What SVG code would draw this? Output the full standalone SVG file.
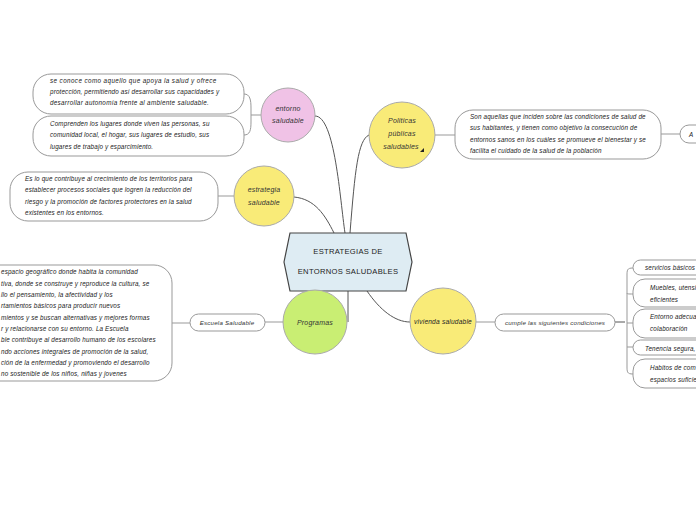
<svg xmlns="http://www.w3.org/2000/svg" width="696" height="520" viewBox="0 0 696 520">
<style>
.t{font-family:"Liberation Sans",Arial,sans-serif;font-style:italic;font-size:6.3px;fill:#222;letter-spacing:0.15px}
.n{font-family:"Liberation Sans",Arial,sans-serif;font-style:italic;font-size:7px;fill:#333;text-anchor:middle;letter-spacing:0.2px}
.s{font-size:6.2px}
.c{font-family:"Liberation Sans",Arial,sans-serif;font-size:7.6px;fill:#222;text-anchor:middle;letter-spacing:0.3px}
.box{fill:#fff;stroke:#999;stroke-width:1}
.circ{stroke:#aaa;stroke-width:1}
.ln{fill:none;stroke:#555;stroke-width:1}
.lg{fill:none;stroke:#999;stroke-width:1}
</style>
<rect width="696" height="520" fill="#fff"/>
<g id="connectors">
<path class="ln" d="M315,116 C335,116 340,200 345,233"/>
<path class="ln" d="M350,233 C355,170 358,140 369,135"/>
<path class="ln" d="M294,197 C315,199 325,215 334,233"/>
<path class="ln" d="M348,291 L348,322"/>
<path class="ln" d="M367,291 C380,310 395,322 410,322"/>
<path class="lg" d="M261,115 L251,115 M244,94 C250,94 251,100 251,108 L251,122 C251,130 250,135 244,135"/>
<path class="lg" d="M218,196 L234,196"/>
<path class="lg" d="M435,135 L455,135"/>
<path class="lg" d="M661,134 L680,134"/>
<path class="lg" d="M172,323 L190,323"/>
<path class="lg" d="M265,322 L283,322"/>
<path class="lg" d="M476,322 L495,322"/>
<path class="ln" d="M615,322 L625,322"/>
<path class="lg" d="M633,268 C627,268 627,270 627,276 L627,366 C627,372 627,374 633,374 M627,293 C627,294 628,294 633,294 M627,323 L633,323 M627,347 L633,347"/>
</g>
<g id="center">
<polygon points="284,262 290,233 406,233 412,262 406,291 290,291" fill="#deecf3" stroke="#444" stroke-width="1.2"/>
<text class="c" x="348" y="254">ESTRATEGIAS DE</text>
<text class="c" x="348" y="274">ENTORNOS SALUDABLES</text>
</g>
<g id="entorno">
<circle class="circ" cx="288" cy="115" r="27" fill="#f0c2e6"/>
<text class="n" x="288" y="111">entorno</text>
<text class="n" x="288" y="123">saludable</text>
</g>
<g id="entorno-def">
<rect class="box" x="33" y="74" width="211" height="40" rx="18"/>
<text class="t" x="50" y="83" style="letter-spacing:0.4px">se conoce como aquello que apoya la salud y ofrece</text>
<text class="t" x="50" y="94">protección, permitiendo así desarrollar sus capacidades y</text>
<text class="t" x="50" y="105" style="letter-spacing:0.3px">desarrollar autonomía frente al ambiente saludable.</text>
</g>
<g id="entorno-lugares">
<rect class="box" x="33" y="116" width="211" height="40" rx="18"/>
<text class="t" x="50" y="126">Comprenden los lugares donde viven las personas, su</text>
<text class="t" x="50" y="137">comunidad local, el hogar, sus lugares de estudio, sus</text>
<text class="t" x="50" y="149">lugares de trabajo y esparcimiento.</text>
</g>
<g id="politicas">
<circle class="circ" cx="402" cy="135" r="33" fill="#f9eb78"/>
<text class="n" x="402" y="123">Politicas</text>
<text class="n" x="402" y="136">públicas</text>
<text class="n" x="401" y="149">saludables</text>
<polygon points="424,148 424,152 420,152" fill="#222"/>
</g>
<g id="politicas-def">
<rect class="box" x="455" y="110" width="206" height="49" rx="18"/>
<text class="t" x="470" y="119">Son aquellas que inciden sobre las condiciones de salud de</text>
<text class="t" x="470" y="130">sus habitantes, y tienen como objetivo la consecución de</text>
<text class="t" x="470" y="142">entornos sanos en los cuáles se promueve el bienestar y se</text>
<text class="t" x="470" y="153">facilita el cuidado de la salud de la población</text>
</g>
<g id="politicas-a">
<rect class="box" x="680" y="125" width="40" height="18" rx="9"/>
<text class="t" x="689" y="137">A</text>
</g>
<g id="estrategia">
<circle class="circ" cx="264" cy="196" r="30" fill="#f9eb78"/>
<text class="n" x="264" y="192">estrategia</text>
<text class="n" x="264" y="205">saludable</text>
</g>
<g id="estrategia-def">
<rect class="box" x="10" y="172" width="208" height="49" rx="18"/>
<text class="t" x="25" y="181">Es lo que contribuye al crecimiento de los territorios para</text>
<text class="t" x="25" y="192">establecer procesos sociales que logren la reducción del</text>
<text class="t" x="25" y="204">riesgo y la promoción de factores protectores en la salud</text>
<text class="t" x="25" y="215">existentes en los entornos.</text>
</g>
<g id="programas">
<circle class="circ" cx="315" cy="322" r="32" fill="#c9ee73"/>
<text class="n" x="315" y="325">Programas</text>
</g>
<g id="escuela">
<rect class="box" x="190" y="314" width="75" height="17" rx="8.5"/>
<text class="n s" x="227" y="325">Escuela Saludable</text>
</g>
<g id="escuela-def">
<rect class="box" x="-30" y="265" width="202" height="116" rx="18"/>
<text class="t" x="1" y="274">espacio geográfico donde habita la comunidad</text>
<text class="t" x="1" y="286">tiva, donde se construye y reproduce la cultura, se</text>
<text class="t" x="1" y="297">llo el pensamiento, la afectividad y los</text>
<text class="t" x="1" y="308">rtamientos básicos para producir nuevos</text>
<text class="t" x="1" y="320">mientos y se buscan alternativas y mejores formas</text>
<text class="t" x="1" y="331">r y relacionarse con su entorno. La Escuela</text>
<text class="t" x="1" y="342">ble contribuye al desarrollo humano de los escolares</text>
<text class="t" x="1" y="354">ndo acciones integrales de promoción de la salud,</text>
<text class="t" x="1" y="365">ción de la enfermedad y promoviendo el desarrollo</text>
<text class="t" x="1" y="376">no sostenible de los niños, niñas y jovenes</text>
</g>
<g id="vivienda">
<circle class="circ" cx="443" cy="321" r="33" fill="#f9eb78"/>
<text class="n" x="443" y="324" style="fill:#222;font-size:6.6px">vivienda saludable</text>
</g>
<g id="cumple">
<rect class="box" x="495" y="314" width="120" height="17" rx="8.5"/>
<text class="n s" x="555" y="325">cumple las siguientes condiciones</text>
</g>
<g id="servicios">
<rect class="box" x="633" y="260" width="90" height="15" rx="7.5"/>
<text class="t" x="645" y="270">servicios básicos</text>
</g>
<g id="muebles">
<rect class="box" x="633" y="279" width="90" height="28" rx="12"/>
<text class="t" x="650" y="290">Muebles, utensi</text>
<text class="t" x="650" y="302">eficientes</text>
</g>
<g id="entorno-adecuado">
<rect class="box" x="633" y="309" width="90" height="29" rx="12"/>
<text class="t" x="650" y="319">Entorno adecua</text>
<text class="t" x="650" y="331">colaboración</text>
</g>
<g id="tenencia">
<rect class="box" x="633" y="340" width="90" height="15" rx="7.5"/>
<text class="t" x="645" y="351">Tenencia segura,</text>
</g>
<g id="habitos">
<rect class="box" x="633" y="359" width="90" height="29" rx="12"/>
<text class="t" x="650" y="370">Habitos de com</text>
<text class="t" x="650" y="382">espacios suficie</text>
</g>
</svg>
